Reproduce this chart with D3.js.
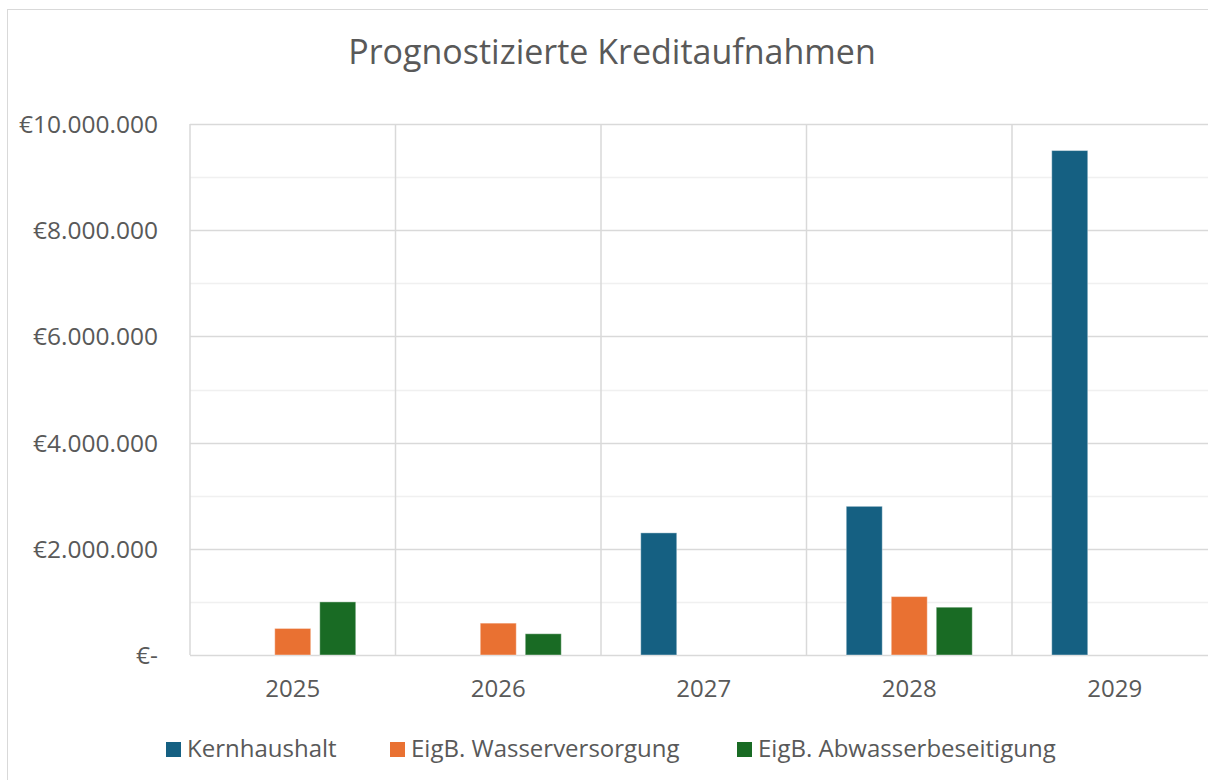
<!DOCTYPE html>
<html>
<head>
<meta charset="utf-8">
<script src="https://cdn.jsdelivr.net/npm/d3@7"></script>
<style>
  body { margin: 0; background: #fff; }
  svg { display: block; font-family: "Open Sans", sans-serif; }
</style>
</head>
<body>
<svg width="1208" height="780"></svg>
<script>
const years = ["2025", "2026", "2027", "2028", "2029"];
const seriesNames = ["Kernhaushalt", "EigB. Wasserversorgung", "EigB. Abwasserbeseitigung"];
const kernhaushalt = [0, 0, 2300000, 2800000, 9500000];
const wasser = [500000, 600000, 0, 1100000, 0];
const abwasser = [1000000, 400000, 0, 900000, 0];
const yTicks = [0, 2000000, 4000000, 6000000, 8000000, 10000000];
const colors = ["#156082", "#E97132", "#196B24"];

const svg = d3.select("svg");
const textColor = "#595959";

const plotLeft = 190, plotRight = 1217.5, plotTop = 124, plotBottom = 655;

// chart frame
svg.append("rect")
    .attr("x", 7.5).attr("y", 9.5)
    .attr("width", 1300).attr("height", 800)
    .attr("fill", "#fff")
    .attr("stroke", "#d9d9d9");

svg.append("text")
    .attr("x", 612).attr("y", 64)
    .attr("text-anchor", "middle")
    .attr("font-size", 34)
    .attr("fill", textColor)
    .text("Prognostizierte Kreditaufnahmen");

const x0 = d3.scaleBand().domain(years).range([plotLeft, plotRight]);
const groupW = 126;
const x1 = d3.scaleBand().domain(seriesNames)
    .range([(x0.bandwidth() - groupW) / 2, (x0.bandwidth() + groupW) / 2])
    .paddingInner(0.2);
const y = d3.scaleLinear().domain([0, 10000000]).range([plotBottom, plotTop]);

// minor gridlines
const minor = d3.range(1000000, 10000000, 2000000);
svg.append("g").selectAll("line").data(minor).join("line")
    .attr("x1", plotLeft).attr("x2", plotRight)
    .attr("y1", d => Math.round(y(d)) + 0.5).attr("y2", d => Math.round(y(d)) + 0.5)
    .attr("stroke", "#f0f0f0").attr("stroke-width", 1.5);

// major gridlines
svg.append("g").selectAll("line").data(yTicks).join("line")
    .attr("x1", plotLeft).attr("x2", plotRight)
    .attr("y1", d => Math.round(y(d)) + 0.5).attr("y2", d => Math.round(y(d)) + 0.5)
    .attr("stroke", "#d9d9d9").attr("stroke-width", 1.5);

// vertical category lines
svg.append("g").selectAll("line").data(years.concat(["end"])).join("line")
    .attr("x1", d => d === "end" ? plotRight : x0(d))
    .attr("x2", d => d === "end" ? plotRight : x0(d))
    .attr("y1", plotTop).attr("y2", plotBottom)
    .attr("stroke", "#d9d9d9").attr("stroke-width", 1.5);

// y axis labels
const loc = d3.formatLocale({decimal: ",", thousands: ".", grouping: [3], currency: ["€", ""]});
const fmt = loc.format("$,.0f");
svg.append("g").selectAll("text").data(yTicks).join("text")
    .attr("x", 158).attr("y", d => y(d) + 9)
    .attr("text-anchor", "end")
    .attr("font-size", 24.5)
    .attr("fill", textColor)
    .text(d => d === 0 ? "€-" : fmt(d));

// x axis labels
svg.append("g").selectAll("text").data(years).join("text")
    .attr("x", d => x0(d) + x0.bandwidth() / 2).attr("y", 697)
    .attr("text-anchor", "middle")
    .attr("font-size", 24)
    .attr("fill", textColor)
    .text(d => d);

// bars
const allSeries = [kernhaushalt, wasser, abwasser];
const rows = [];
years.forEach((yr, i) => {
    seriesNames.forEach((s, j) => {
        rows.push({year: yr, series: s, value: allSeries[j][i], color: colors[j]});
    });
});
svg.append("g").selectAll("rect").data(rows.filter(d => d.value > 0)).join("rect")
    .attr("x", d => x0(d.year) + x1(d.series))
    .attr("y", d => y(d.value))
    .attr("width", x1.bandwidth())
    .attr("height", d => y(0) - y(d.value))
    .attr("fill", d => d.color)
    .attr("stroke", "#fff").attr("stroke-opacity", 0.4).attr("stroke-width", 1);

// legend
const legendX = [166, 390, 737];
const legend = svg.append("g").selectAll("g").data(seriesNames).join("g")
    .attr("transform", (d, i) => `translate(${legendX[i]}, 742)`);
legend.append("rect")
    .attr("width", 15).attr("height", 15)
    .attr("fill", (d, i) => colors[i]);
legend.append("text")
    .attr("x", 21).attr("y", 15)
    .attr("font-size", 24)
    .attr("fill", textColor)
    .text(d => d);
</script>
</body>
</html>
